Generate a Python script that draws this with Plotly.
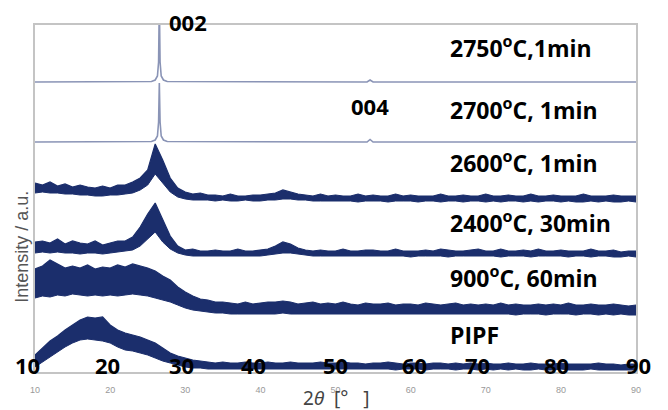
import plotly.graph_objects as go

# ---------------- data ----------------
two_theta = list(range(10, 91))  # 1-degree grid for the noisy patterns

# sharp (graphitised) patterns: baseline + 002 peak + tiny 004 peak
peak_x = [10, 25.5, 26.0, 26.3, 26.45, 26.55, 26.65, 26.8, 27.1, 27.6, 54.2, 54.6, 55.0, 90]
i_2750 = [290, 290.5, 292, 296, 310, 370, 310, 296, 292, 290.5, 290, 292, 290, 290]
i_2700 = [230, 230.5, 232, 236, 250, 289, 250, 236, 232, 230.5, 230, 232.5, 230, 230]

# noisy patterns: lower / upper envelope of the noise band (offset intensity)
lo_2600 = [179, 180, 179, 179, 178, 178, 177, 177, 176, 176, 177, 177, 178, 179, 182, 187, 198, 189, 180, 175,
           173, 172, 172, 172, 171, 172, 171, 171, 172, 171, 171, 172, 172, 173, 173, 172, 172, 171, 171, 171,
           171, 171, 171, 170, 171, 171, 171, 170, 171, 171, 171, 170, 171, 171, 170, 171, 171, 170, 171, 171,
           170, 171, 170, 171, 171, 170, 171, 170, 171, 171, 170, 171, 170, 170, 171, 170, 171, 170, 170, 171, 170]
hi_2600 = [189, 187, 190, 186, 188, 185, 187, 185, 184, 186, 184, 187, 187, 190, 194, 202, 228, 212, 194, 184,
           180, 178, 179, 177, 177, 176, 178, 176, 176, 177, 177, 178, 179, 182, 180, 178, 177, 176, 178, 176,
           177, 176, 176, 178, 176, 177, 176, 176, 178, 176, 177, 176, 176, 176, 178, 176, 176, 177, 176, 176,
           178, 176, 176, 177, 176, 176, 178, 176, 176, 177, 176, 176, 176, 178, 176, 176, 176, 177, 176, 176, 176]

lo_2400 = [119, 120, 119, 120, 119, 119, 118, 119, 119, 118, 119, 120, 121, 122, 126, 133, 140, 130, 123, 119,
           117, 116, 116, 116, 116, 116, 116, 116, 116, 116, 116, 117, 118, 119, 119, 118, 117, 116, 116, 116,
           116, 116, 116, 116, 116, 116, 116, 116, 116, 116, 115, 116, 116, 116, 116, 115, 116, 116, 116, 116,
           116, 116, 115, 116, 116, 116, 115, 116, 116, 116, 116, 115, 116, 116, 115, 116, 116, 115, 115, 116, 115]
hi_2400 = [130, 131, 129, 133, 128, 131, 129, 128, 131, 127, 129, 131, 131, 135, 145, 158, 169, 152, 136, 126,
           122, 123, 121, 121, 122, 121, 121, 123, 121, 121, 122, 123, 126, 130, 128, 124, 122, 121, 122, 121,
           121, 123, 121, 121, 122, 122, 121, 121, 123, 121, 121, 121, 122, 121, 123, 122, 121, 121, 122, 123,
           121, 121, 123, 121, 121, 122, 121, 123, 121, 121, 122, 121, 121, 121, 123, 121, 121, 122, 120, 121, 121]

lo_900 = [74, 76, 75, 77, 76, 78, 77, 76, 77, 76, 77, 76, 77, 78, 77, 76, 74, 72, 70, 67,
          64, 62, 61, 60, 59, 59, 58, 58, 58, 58, 58, 58, 58, 59, 58, 58, 58, 58, 58, 58,
          58, 58, 58, 58, 58, 58, 58, 58, 58, 58, 58, 58, 58, 58, 58, 58, 58, 58, 58, 58,
          58, 58, 58, 58, 57, 58, 58, 58, 57, 58, 58, 58, 57, 58, 58, 57, 58, 57, 58, 57, 57]
hi_900 = [103, 106, 112, 108, 104, 106, 104, 107, 103, 105, 104, 107, 105, 108, 106, 104, 101, 96, 92, 85,
          80, 76, 73, 72, 70, 70, 69, 68, 70, 68, 69, 70, 70, 71, 70, 68, 69, 70, 68, 69,
          68, 70, 68, 67, 69, 68, 68, 69, 67, 68, 68, 67, 69, 68, 67, 68, 69, 67, 68, 67,
          68, 67, 69, 67, 68, 67, 67, 68, 67, 68, 67, 69, 67, 67, 68, 67, 67, 68, 67, 66, 67]

lo_pipf = [5, 10, 15, 20, 25, 29, 32, 33, 32, 31, 29, 25, 22, 21, 19, 17, 14, 11, 9, 7,
           5, 4, 4, 3, 3, 3, 3, 3, 3, 3, 3, 3, 3, 3, 3, 3, 3, 3, 3, 3,
           3, 3, 3, 3, 3, 3, 3, 3, 2, 3, 3, 3, 2, 3, 3, 3, 2, 3, 3, 2,
           3, 2, 3, 2, 3, 2, 2, 3, 2, 2, 3, 2, 2, 2, 3, 2, 2, 2, 2, 2, 2]
hi_pipf = [17, 24, 31, 36, 42, 47, 52, 55, 54, 55, 47, 42, 39, 37, 35, 32, 29, 24, 19, 16,
           14, 12, 11, 10, 9, 10, 9, 9, 10, 9, 9, 10, 9, 9, 10, 9, 9, 9, 10, 9,
           9, 10, 9, 9, 8, 9, 9, 10, 9, 8, 9, 9, 8, 9, 9, 8, 9, 8, 9, 8,
           9, 8, 8, 9, 8, 8, 9, 8, 8, 8, 9, 8, 8, 8, 8, 9, 8, 8, 7, 8, 8]

sample_labels = ["2750<sup>o</sup>C,1min", "2700<sup>o</sup>C, 1min", "2600<sup>o</sup>C, 1min",
                 "2400<sup>o</sup>C, 30min", "900<sup>o</sup>C, 60min", "PIPF"]
label_y = [325, 263, 210, 150, 95, 37]
peak_names = ["002", "004"]
big_ticks = [10, 20, 30, 40, 50, 60, 70, 80, 90]

# ---------------- figure ----------------
SHARP = "#8a94b6"
NAVY = "#1b2e6c"
fig = go.Figure()

for ys in (i_2750, i_2700):
    fig.add_trace(go.Scatter(x=peak_x, y=ys, mode="lines",
                             line=dict(color=SHARP, width=1.6), hoverinfo="skip"))

for lo, hi in ((lo_2600, hi_2600), (lo_2400, hi_2400), (lo_900, hi_900), (lo_pipf, hi_pipf)):
    fig.add_trace(go.Scatter(x=two_theta, y=lo, mode="lines",
                             line=dict(color=NAVY, width=1), hoverinfo="skip"))
    fig.add_trace(go.Scatter(x=two_theta, y=hi, mode="lines", fill="tonexty",
                             fillcolor=NAVY, line=dict(color=NAVY, width=1.2), hoverinfo="skip"))

bold = dict(family="Open Sans", size=22, color="black")
lab_font = dict(family="Open Sans", size=23, color="black")
ann = []
for txt, yy in zip(sample_labels, label_y):
    ann.append(dict(x=65.0, y=yy, xref="x", yref="y", text="<b>%s</b>" % txt,
                    showarrow=False, xanchor="left", yanchor="middle", font=lab_font))
ann.append(dict(x=0.2546, y=1.009, xref="paper", yref="paper", text="<b>%s</b>" % peak_names[0],
                showarrow=False, xanchor="center", yanchor="middle", font=bold))
ann.append(dict(x=54.6, y=266, xref="x", yref="y", text="<b>%s</b>" % peak_names[1],
                showarrow=False, xanchor="center", yanchor="middle", font=bold))
shifts = [-8, -3, -4, -7, 0, 4, -8, -4, 2]
for t, s in zip(big_ticks, shifts):
    ann.append(dict(x=t, y=7, xref="x", yref="y", text="<b>%d</b>" % t, xshift=s,
                    showarrow=False, xanchor="center", yanchor="middle", font=bold))
ann.append(dict(x=0.5, y=-0.074, xref="paper", yref="paper",
                text="2<i>θ</i>&nbsp; [°&nbsp;&nbsp;&nbsp;]",
                showarrow=False, xanchor="center", yanchor="middle",
                font=dict(family="Noto Sans", size=19, color="#444")))
ann.append(dict(x=-0.022, y=0.36, xref="paper", yref="paper", text="Intensity / a.u.",
                textangle=-90, showarrow=False, xanchor="center", yanchor="middle",
                font=dict(family="Liberation Sans", size=18, color="#555")))

fig.update_layout(
    width=668, height=410,
    margin=dict(l=35, r=32, t=25, b=38),
    paper_bgcolor="white", plot_bgcolor="white",
    showlegend=False,
    annotations=ann,
    xaxis=dict(range=[10, 90], tickvals=big_ticks, ticks="outside", ticklen=8,
               tickcolor="rgba(0,0,0,0)", tickfont=dict(family="Liberation Sans", size=9, color="#999"),
               showgrid=False, zeroline=False, showline=True, mirror=True,
               linecolor="#c4c4c4", linewidth=1.5),
    yaxis=dict(range=[0, 347], showticklabels=False, ticks="", showgrid=False, zeroline=False,
               showline=True, mirror=True, linecolor="#c4c4c4", linewidth=1.5),
)

fig.write_html("out.html", config={"displayModeBar": False},
               post_script="document.body.style.margin='0';document.body.style.overflow='hidden';")
